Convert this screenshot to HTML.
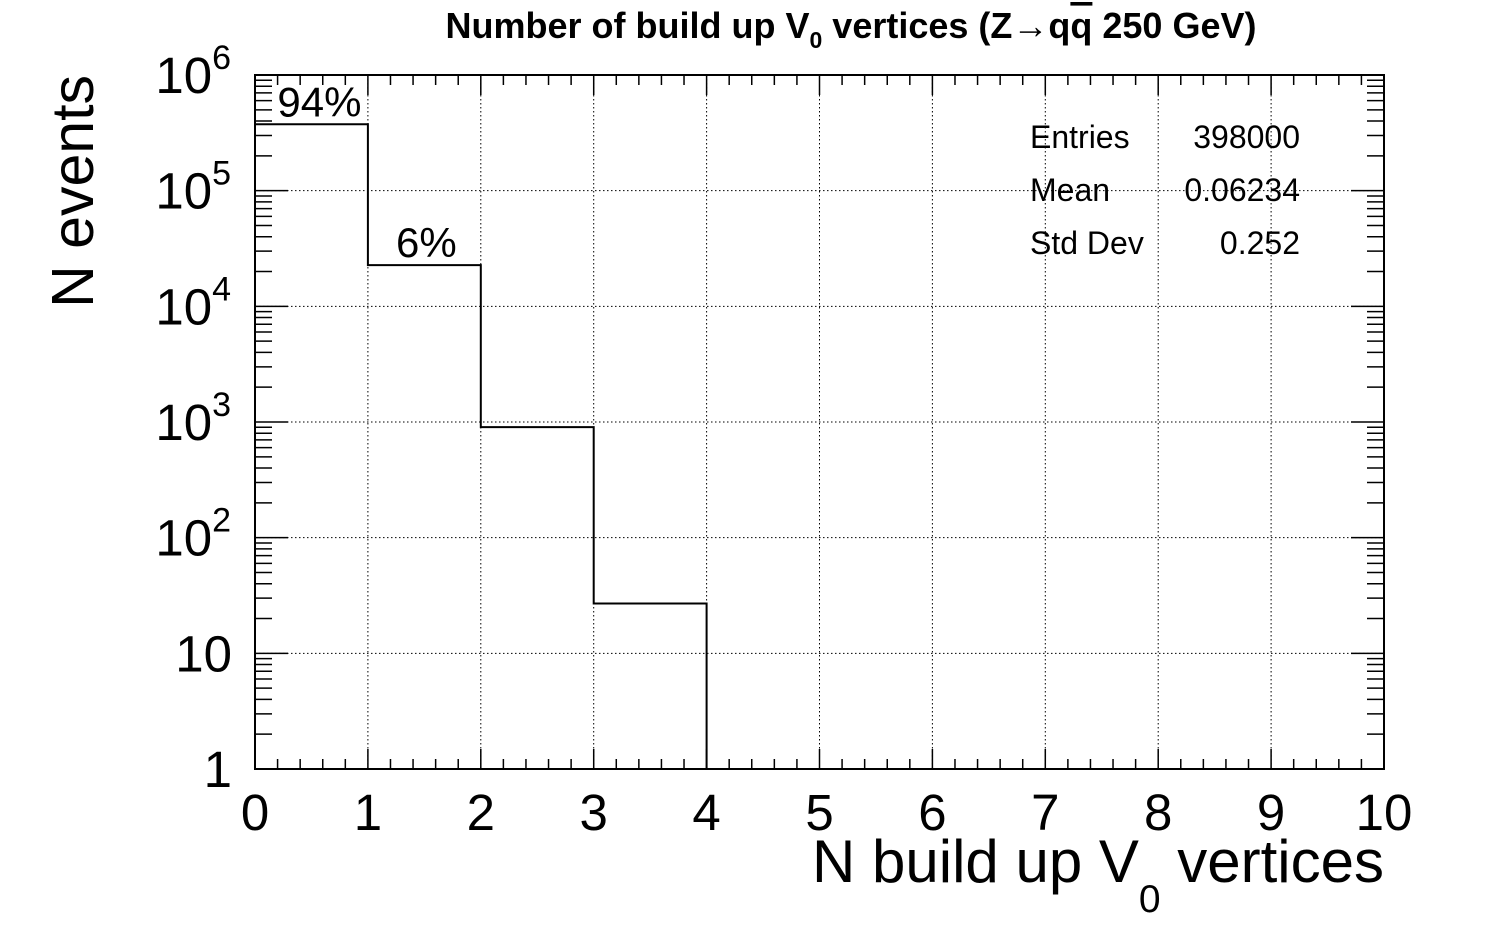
<!DOCTYPE html>
<html><head><meta charset="utf-8"><style>
body{margin:0;background:#fff}
svg{display:block;font-family:"Liberation Sans",sans-serif}
</style></head><body>
<svg id="c" width="1505" height="940" xmlns="http://www.w3.org/2000/svg">
<rect width="1505" height="940" fill="#fff"/>
<text x="851" y="38" text-anchor="middle" font-size="36" font-weight="bold">Number of build up V<tspan font-size="23" dy="10">0</tspan><tspan dy="-10"> vertices (Z→q</tspan><tspan text-decoration="overline">q</tspan><tspan>  250 GeV)</tspan></text>
<g id="grid"></g><g id="hist"></g><g id="axes"></g>
<text x="1384" y="882" text-anchor="end" font-size="60">N build up V<tspan font-size="39" dy="30">0</tspan><tspan dy="-30"> vertices</tspan></text>
<text transform="translate(93,75) rotate(-90)" text-anchor="end" font-size="59">N events</text>
<g font-size="32">
<text x="1030" y="148">Entries</text><text x="1300" y="148" text-anchor="end">398000</text>
<text x="1030" y="201">Mean</text><text x="1300" y="201" text-anchor="end">0.06234</text>
<text x="1030" y="254">Std Dev</text><text x="1300" y="254" text-anchor="end">0.252</text>
</g>
</svg>
<script>
const binEdges=[0,1,2,3,4,5,6,7,8,9,10];
const counts=[375000,22700,903,27,0,0,0,0,0,0];
const binLabels=["94%","6%","","","","","","","",""];
const xTicks=["0","1","2","3","4","5","6","7","8","9","10"];
const yDecades=[0,1,2,3,4,5,6];
const L=255,R=1384,T=75,B=769;
const X=v=>L+(v-0)/(10-0)*(R-L);
const Y=v=>B-(Math.log10(Math.max(v,1))-0)/6*(B-T);
const NS="http://www.w3.org/2000/svg";
function mk(p,tag,a){const e=document.createElementNS(NS,tag);for(const k in a)e.setAttribute(k,a[k]);p.appendChild(e);return e;}
const grid=document.getElementById('grid'),hist=document.getElementById('hist'),axes=document.getElementById('axes');
xTicks.forEach((t,i)=>{if(i>0&&i<10){const l=mk(grid,'line',{x1:X(i),x2:X(i),y1:T,y2:B,stroke:'#000','stroke-width':1,'stroke-dasharray':'1.5,2.5'});}});
yDecades.forEach(d=>{if(d>0&&d<6){const l=mk(grid,'line',{x1:L,x2:R,y1:Y(10**d),y2:Y(10**d),stroke:'#000','stroke-width':1,'stroke-dasharray':'1.5,2.5'});}});
let d=`M${X(binEdges[0])},${B}`;
counts.forEach((c,i)=>{const y=c>0?Y(c):B;d+=` L${X(binEdges[i])},${y} L${X(binEdges[i+1])},${y}`;});
d+=` L${X(binEdges[10])},${B}`;
const h=mk(hist,'path',{d:d,fill:'none',stroke:'#000','stroke-width':2});


binLabels.forEach((s,i)=>{if(!s)return;const t=mk(hist,'text',{x:(X(binEdges[i])+X(binEdges[i+1]))/2+(i==0?8:2),y:Y(counts[i])-8,'text-anchor':'middle','font-size':42});t.textContent=s;

});
const f=mk(axes,'rect',{x:L,y:T,width:R-L,height:B-T,fill:'none',stroke:'#000','stroke-width':2});


for(let i=0;i<=50;i++){const v=i/5;const len=i%5==0?20:10;
mk(axes,'line',{x1:X(v),x2:X(v),y1:B,y2:B-len,stroke:'#000','stroke-width':1.5});
mk(axes,'line',{x1:X(v),x2:X(v),y1:T,y2:T+len,stroke:'#000','stroke-width':1.5});}
xTicks.forEach((s,i)=>{const t=mk(axes,'text',{x:X(i),y:830,'text-anchor':'middle','font-size':51});t.textContent=s;

});
for(let dd=0;dd<6;dd++)for(let m=1;m<=9;m++){const v=m*10**dd;const len=m==1?33:17;
mk(axes,'line',{x1:L,x2:L+len,y1:Y(v),y2:Y(v),stroke:'#000','stroke-width':1.5});
mk(axes,'line',{x1:R,x2:R-len,y1:Y(v),y2:Y(v),stroke:'#000','stroke-width':1.5});}
yDecades.forEach(dd=>{const y=Y(10**dd);let t;
t=mk(axes,'text',{x:dd>=2?231:232,y:y+18,'text-anchor':'end','font-size':51});
if(dd==0)t.textContent='1';
else if(dd==1)t.textContent='10';
else t.innerHTML='10<tspan font-size="34" dy="-24">'+dd+'</tspan>';

});
</script>
</body></html>
